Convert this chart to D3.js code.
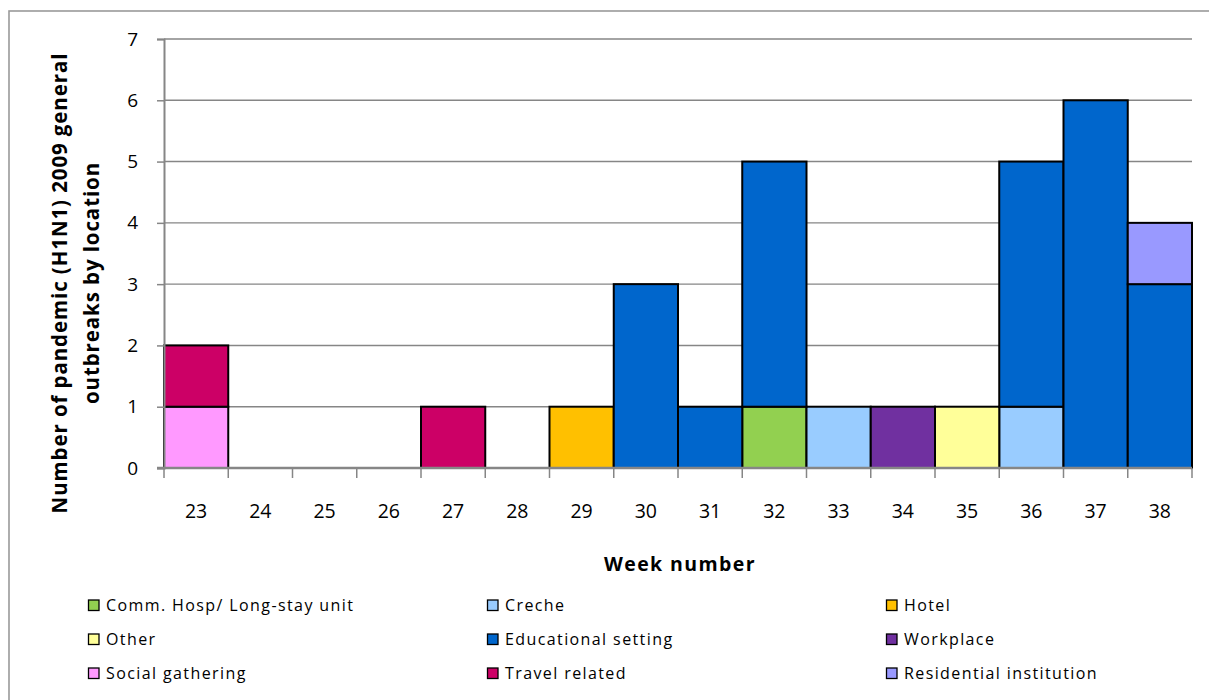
<!DOCTYPE html>
<html>
<head>
<meta charset="utf-8">
<script src="https://cdn.jsdelivr.net/npm/d3@7"></script>
<style>
  html, body { margin: 0; padding: 0; background: #fff; }
  svg { display: block; }
  text { font-family: "Open Sans", "Liberation Sans", sans-serif; fill: #000; }
</style>
</head>
<body>
<svg id="chart" width="1209" height="700"></svg>
<script>
// Week numbers on the x axis
const weeks = [23, 24, 25, 26, 27, 28, 29, 30, 31, 32, 33, 34, 35, 36, 37, 38];

// Outbreak locations, in stacking / legend order
const locations = [
  "Comm. Hosp/ Long-stay unit", "Creche", "Hotel",
  "Other", "Educational setting", "Workplace",
  "Social gathering", "Travel related", "Residential institution"
];
const colors = [
  "#92D050", "#99CCFF", "#FFC000",
  "#FFFF99", "#0066CC", "#7030A0",
  "#FF99FF", "#CC0066", "#9999FF"
];

// Outbreak counts per week (weeks 23..38) for each location
const commHosp      = [0,0,0,0,0,0,0,0,0,1,0,0,0,0,0,0];
const creche        = [0,0,0,0,0,0,0,0,0,0,1,0,0,1,0,0];
const hotel         = [0,0,0,0,0,0,1,0,0,0,0,0,0,0,0,0];
const other         = [0,0,0,0,0,0,0,0,0,0,0,0,1,0,0,0];
const educational   = [0,0,0,0,0,0,0,3,1,4,0,0,0,4,6,3];
const workplace     = [0,0,0,0,0,0,0,0,0,0,0,1,0,0,0,0];
const socialGather  = [1,0,0,0,0,0,0,0,0,0,0,0,0,0,0,0];
const travelRelated = [1,0,0,0,1,0,0,0,0,0,0,0,0,0,0,0];
const residential   = [0,0,0,0,0,0,0,0,0,0,0,0,0,0,0,1];

const yTicks = [0, 1, 2, 3, 4, 5, 6, 7];

const seriesValues = [commHosp, creche, hotel, other, educational, workplace,
                      socialGather, travelRelated, residential];

const table = weeks.map((w, i) => {
  const row = { week: w };
  locations.forEach((loc, k) => { row[loc] = seriesValues[k][i]; });
  return row;
});

const svg = d3.select("#chart");

// Chart frame (runs off the right and bottom edges)
svg.append("rect")
  .attr("x", 9).attr("y", 11)
  .attr("width", 1240).attr("height", 740)
  .attr("fill", "none").attr("stroke", "#9a9a9a").attr("stroke-width", 1.6);

const plot = { left: 164, right: 1192, top: 39, bottom: 468 };

const x = d3.scaleBand().domain(weeks).range([plot.left, plot.right]).padding(0);
const y = d3.scaleLinear().domain([0, 7]).range([plot.bottom, plot.top]);
const color = d3.scaleOrdinal().domain(locations).range(colors);

// Horizontal gridlines
svg.append("g")
  .selectAll("line")
  .data(yTicks.filter(t => t > 0))
  .join("line")
  .attr("x1", plot.left).attr("x2", plot.right)
  .attr("y1", d => y(d)).attr("y2", d => y(d))
  .attr("stroke", "#868686").attr("stroke-width", 1.4);

// Stacked bars
const stacked = d3.stack().keys(locations)(table);
svg.append("g")
  .selectAll("g")
  .data(stacked)
  .join("g")
  .attr("fill", d => color(d.key))
  .selectAll("rect")
  .data(d => d.filter(s => s[1] - s[0] > 0))
  .join("rect")
  .attr("x", d => x(d.data.week))
  .attr("width", x.bandwidth())
  .attr("y", d => y(d[1]))
  .attr("height", d => y(d[0]) - y(d[1]))
  .attr("stroke", "#000").attr("stroke-width", 2);

// Y axis
const yAxis = svg.append("g")
  .attr("transform", `translate(${plot.left},0)`)
  .call(d3.axisLeft(y).tickValues(yTicks).tickSize(7).tickPadding(19).tickFormat(d3.format("d")));
yAxis.select(".domain").attr("stroke", "#868686").attr("stroke-width", 2);
yAxis.selectAll(".tick line").attr("stroke", "#868686").attr("stroke-width", 1.5);
yAxis.selectAll(".tick text")
  .style("font-family", "'Open Sans', sans-serif")
  .style("font-size", "19px").attr("fill", "#000");

// X axis: ticks on the band boundaries, labels centred in each band
const xAxisG = svg.append("g").attr("transform", `translate(0,${plot.bottom})`);
const boundaries = weeks.map(w => x(w)).concat([x(weeks[weeks.length - 1]) + x.bandwidth()]);
xAxisG.selectAll("line.tick")
  .data(boundaries)
  .join("line")
  .attr("class", "tick")
  .attr("x1", d => d).attr("x2", d => d)
  .attr("y1", 0).attr("y2", 10)
  .attr("stroke", "#868686").attr("stroke-width", 1.5);
xAxisG.append("line")
  .attr("x1", plot.left - 7).attr("x2", plot.right)
  .attr("stroke", "#868686").attr("stroke-width", 2.6);
xAxisG.selectAll("text")
  .data(weeks)
  .join("text")
  .attr("x", d => x(d) + x.bandwidth() / 2)
  .attr("y", 43)
  .attr("dy", "0.35em")
  .attr("text-anchor", "middle")
  .style("font-size", "19.5px")
  .text(d => d);

// Axis titles
svg.append("text")
  .attr("x", (plot.left + plot.right) / 2 + 2)
  .attr("y", 571)
  .attr("text-anchor", "middle")
  .style("font-size", "19.5px").style("font-weight", "bold")
  .style("letter-spacing", "1.4px")
  .text("Week number");

const yTitle = svg.append("text")
  .attr("transform", "translate(0,283) rotate(-90)")
  .attr("text-anchor", "middle")
  .style("font-size", "20.5px").style("font-weight", "bold")
  .style("letter-spacing", "0.9px");
yTitle.append("tspan").attr("x", 0).attr("y", 67).text("Number of pandemic (H1N1) 2009 general");
yTitle.append("tspan").attr("x", 0).attr("y", 99).text("outbreaks by location");

// Legend: three columns, three rows
const legend = svg.append("g")
  .selectAll("g")
  .data(locations)
  .join("g")
  .attr("transform", (d, i) => `translate(${88 + (i % 3) * 399},${605 + Math.floor(i / 3) * 34})`);
legend.append("rect")
  .attr("x", 0.5).attr("y", -5)
  .attr("width", 10.5).attr("height", 10.5)
  .attr("fill", d => color(d))
  .attr("stroke", "#000").attr("stroke-width", 1.3);
legend.append("text")
  .attr("x", 18).attr("y", 0.5)
  .attr("dy", "0.35em")
  .style("font-size", "16px")
  .style("letter-spacing", "1.4px")
  .text(d => d);
</script>
</body>
</html>
